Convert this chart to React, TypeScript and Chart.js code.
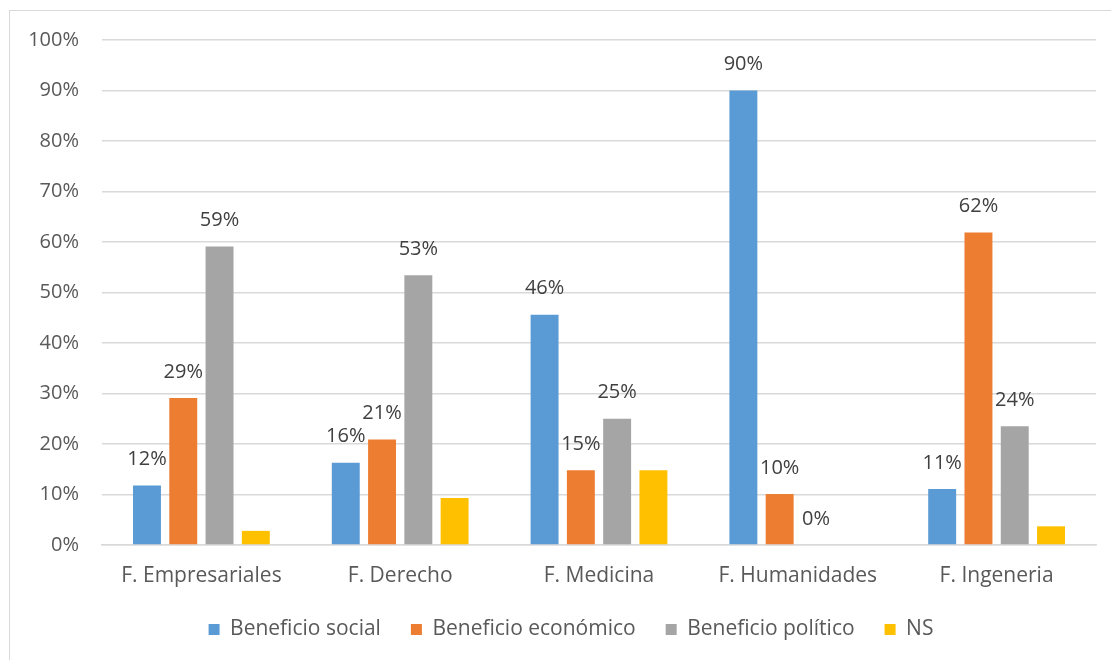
import React, { useEffect, useRef } from "react";
import { Chart, registerables } from "chart.js";

Chart.register(...registerables);

const categories = ["F. Empresariales", "F. Derecho", "F. Medicina", "F. Humanidades", "F. Ingeneria"];
const seriesNames = ["Beneficio social", "Beneficio económico", "Beneficio político", "NS"];
const social = [11.8, 16.3, 45.6, 90, 11.1];
const economico = [29.1, 20.9, 14.8, 10.1, 61.9];
const politico = [59.1, 53.4, 25, 0, 23.5];
const ns = [2.8, 9.3, 14.8, null, 3.7];
const colors = ["#5B9BD5", "#ED7D31", "#A5A5A5", "#FFC000"];
const labelledSeries = [0, 1, 2];
const yTicks = [0, 10, 20, 30, 40, 50, 60, 70, 80, 90, 100];

const FONT = "'Open Sans', Lato, sans-serif";

const dataLabelPlugin = {
  id: "dataLabels",
  afterDatasetsDraw(chart: any) {
    const ctx = chart.ctx;
    ctx.save();
    ctx.font = `20px ${FONT}`;
    ctx.fillStyle = "#404040";
    ctx.textAlign = "center";
    ctx.textBaseline = "middle";
    labelledSeries.forEach((di) => {
      const meta = chart.getDatasetMeta(di);
      const ds = chart.data.datasets[di];
      meta.data.forEach((bar: any, i: number) => {
        const v = ds.data[i];
        if (v === null || v === undefined) return;
        ctx.fillText(`${Math.round(v)}%`, bar.x, bar.y - 26);
      });
    });
    ctx.restore();
  },
};

const legendShiftPlugin = {
  id: "legendShift",
  afterLayout(chart: any) {
    if (chart.legend) chart.legend.left += 46;
  },
};

export default function App() {
  const canvasRef = useRef<HTMLCanvasElement | null>(null);

  useEffect(() => {
    if (!canvasRef.current) return;
    const seriesData = [social, economico, politico, ns];
    const chart = new Chart(canvasRef.current, {
      type: "bar",
      data: {
        labels: categories,
        datasets: seriesNames.map((name, i) => ({
          label: name,
          data: seriesData[i],
          backgroundColor: colors[i],
          borderWidth: 0,
          categoryPercentage: 0.73,
          barPercentage: 0.77,
        })),
      },
      options: {
        responsive: false,
        animation: false,
        maintainAspectRatio: false,
        layout: { padding: { top: 40, right: 15, bottom: 10, left: 0 } },
        plugins: {
          tooltip: { enabled: false },
          legend: {
            position: "bottom",
            labels: {
              boxWidth: 11,
              boxHeight: 11,
              padding: 30,
              color: "#595959",
              font: { family: FONT, size: 21 },
            },
          },
        },
        scales: {
          x: {
            grid: { display: false, drawTicks: false },
            border: { display: true, color: "#D9D9D9", width: 1.5 },
            ticks: { color: "#595959", font: { family: FONT, size: 21 }, padding: 18, maxRotation: 0 },
            afterFit(scale: any) {
              scale.height = 44;
            },
          },
          y: {
            min: 0,
            max: 100,
            afterBuildTicks(scale: any) {
              scale.ticks = yTicks.map((v) => ({ value: v }));
            },
            grid: { color: "#D9D9D9", lineWidth: 1.5, drawTicks: false },
            border: { display: false },
            ticks: {
              color: "#595959",
              font: { family: FONT, size: 20 },
              padding: 23,
              callback: (v: any) => `${v}%`,
            },
            afterFit(scale: any) {
              scale.width = 102;
            },
          },
        },
      },
      plugins: [dataLabelPlugin, legendShiftPlugin],
    } as any);
    return () => chart.destroy();
  }, []);

  return (
    <div style={{ position: "absolute", left: 0, top: 0, width: 1111, height: 660, overflow: "hidden", background: "#fff" }}>
      <div
        style={{
          position: "absolute",
          left: 9,
          top: 10,
          width: 1200,
          height: 700,
          borderLeft: "1.5px solid #D9D9D9",
          borderTop: "1.5px solid #D9D9D9",
        }}
      />
      <canvas ref={canvasRef} width={1111} height={660} style={{ position: "absolute", left: 0, top: 0 }} />
    </div>
  );
}
